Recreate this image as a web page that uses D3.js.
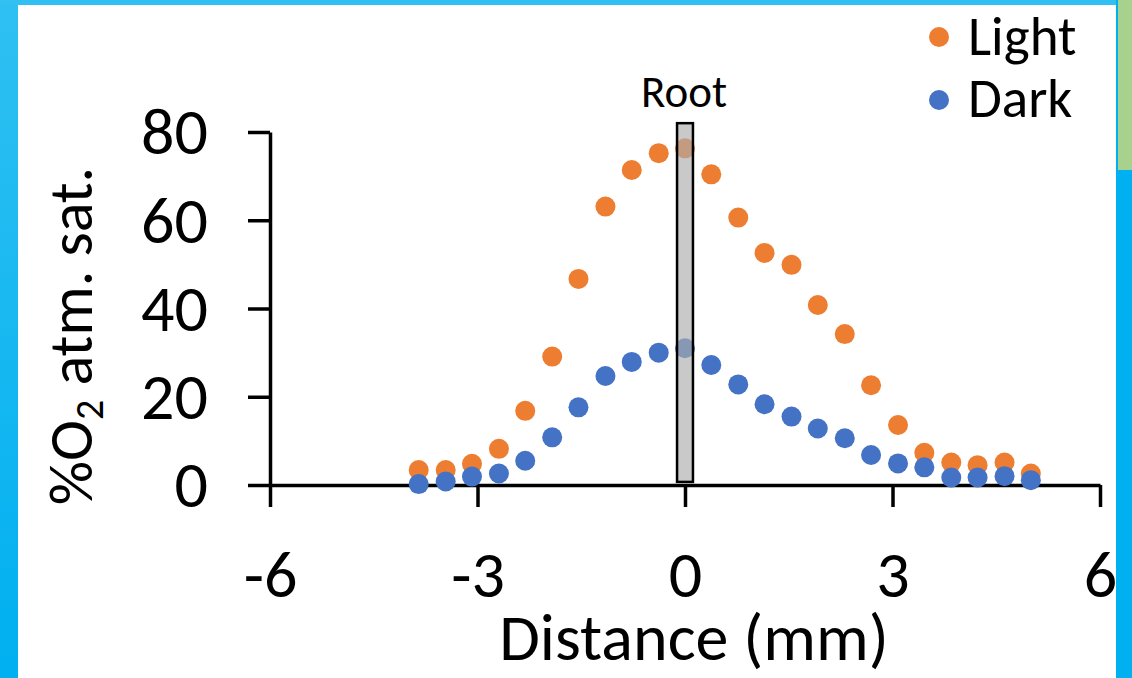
<!DOCTYPE html>
<html>
<head>
<meta charset="utf-8">
<script src="https://cdn.jsdelivr.net/npm/d3@7"></script>
<style type="text/css">
	body {
		margin: 0;
		background-color: #ffffff;
	}
	svg text {
		font-family: Calibri, Carlito, "Open Sans", sans-serif;
		fill: #000;
	}
</style>
</head>
<body>
<div id="chart"></div>
<script type="text/javascript">

	// distance from the root (mm)
	const distance = [-3.85, -3.46, -3.08, -2.69, -2.31, -1.92, -1.54, -1.15, -0.77, -0.38,
		0, 0.38, 0.77, 1.15, 1.54, 1.92, 2.31, 2.69, 3.08, 3.46, 3.85, 4.23, 4.62, 5.0];

	// %O2 atm. sat.
	const light = [3.4, 3.4, 4.8, 8.2, 16.8, 29.1, 46.7, 63.1, 71.4, 75.2,
		76.3, 70.4, 60.6, 52.6, 49.9, 40.8, 34.2, 22.6, 13.6, 7.3, 5.1, 4.5, 5.1, 2.6];
	const dark = [0.2, 0.8, 1.9, 2.6, 5.5, 10.8, 17.6, 24.7, 27.9, 30.0,
		31.0, 27.2, 22.8, 18.3, 15.5, 12.8, 10.6, 6.8, 4.9, 4.0, 1.7, 1.7, 2.0, 1.1];

	const xTicks = [-6, -3, 0, 3, 6];
	const yTicks = [0, 20, 40, 60, 80];

	const seriesNames = ["Light", "Dark"];
	const seriesColors = ["#ED7D31", "#4472C4"];

	const W = 1132, H = 678;

	const svg = d3.select("#chart").append("svg")
		.attr("width", W)
		.attr("height", H);

	const x = d3.scaleLinear().domain([-6, 6]).range([270, 1100]);
	const y = d3.scaleLinear().domain([0, 80]).range([485, 132]);

	// y axis
	const gy = svg.append("g")
		.attr("transform", `translate(${x(-6)},0)`)
		.call(d3.axisLeft(y).tickValues(yTicks).tickSizeInner(22).tickSizeOuter(0).tickPadding(40));
	gy.selectAll("text").attr("dy", "0.33em").style("font-size", "66px");

	// x axis (plain hyphen for negatives, like the original)
	const gx = svg.append("g")
		.attr("transform", `translate(0,${y(0)})`)
		.call(d3.axisBottom(x).tickValues(xTicks).tickFormat(d => String(d)).tickSizeInner(22).tickSizeOuter(0));
	gx.selectAll("text").attr("y", 112).attr("dy", 0).style("font-size", "66px");

	svg.selectAll(".domain, .tick line")
		.attr("stroke", "#000")
		.attr("stroke-width", 3.5);

	// axis titles
	svg.append("text")
		.attr("x", 694).attr("y", 660)
		.attr("text-anchor", "middle")
		.style("font-size", "66px")
		.text("Distance (mm)");

	const ylab = svg.append("text")
		.attr("transform", "translate(92,336) rotate(-90)")
		.attr("text-anchor", "middle")
		.style("font-size", "62px");
	ylab.append("tspan").text("%O");
	ylab.append("tspan").attr("dy", 11).style("font-size", "40px").text("2");
	ylab.append("tspan").attr("dy", -11).text(" atm. sat.");

	// points, light first then dark over it
	const series = [light, dark];
	series.forEach((vals, s) => {
		svg.append("g").selectAll("circle")
			.data(vals)
			.join("circle")
			.attr("cx", (d, i) => x(distance[i]))
			.attr("cy", d => y(d))
			.attr("r", 10)
			.attr("fill", seriesColors[s]);
	});

	// root bar drawn over the points
	svg.append("rect")
		.attr("x", x(-0.115))
		.attr("y", y(82))
		.attr("width", x(0.115) - x(-0.115))
		.attr("height", y(0.7) - y(82))
		.attr("fill", "#acacac")
		.attr("fill-opacity", 0.65)
		.attr("stroke", "#000")
		.attr("stroke-width", 2.5);

	svg.append("text")
		.attr("x", x(0) - 1).attr("y", 107)
		.attr("text-anchor", "middle")
		.style("font-size", "45px")
		.text("Root");

	// legend
	const leg = svg.append("g");
	seriesNames.forEach((name, i) => {
		leg.append("circle")
			.attr("cx", 939).attr("cy", 37 + i * 63)
			.attr("r", 10)
			.attr("fill", seriesColors[i]);
		leg.append("text")
			.attr("x", 968).attr("y", 55 + i * 62)
			.style("font-size", "55px")
			.text(name);
	});

	// slide frame around the chart
	const grad = svg.append("defs").append("linearGradient")
		.attr("id", "leftbar").attr("x1", 0).attr("y1", 0).attr("x2", 0).attr("y2", 1);
	grad.append("stop").attr("offset", "0%").attr("stop-color", "#2fc0f2");
	grad.append("stop").attr("offset", "100%").attr("stop-color", "#00b0f0");

	svg.append("rect").attr("x", 0).attr("y", 0).attr("width", 18).attr("height", H).attr("fill", "url(#leftbar)");
	svg.append("rect").attr("x", 0).attr("y", 0).attr("width", 1118).attr("height", 5).attr("fill", "#31c0f1");
	svg.append("rect").attr("x", 1116).attr("y", 0).attr("width", W - 1116).attr("height", H).attr("fill", "#00b0f0");
	svg.append("rect").attr("x", 1118).attr("y", 0).attr("width", W - 1118).attr("height", 170).attr("fill", "#a9d18e");

</script>
</body>
</html>
